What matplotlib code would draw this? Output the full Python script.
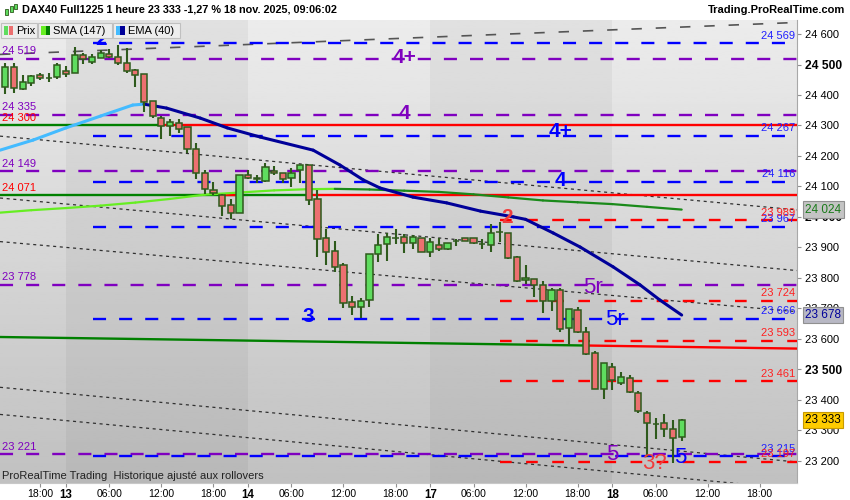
import numpy as np
import matplotlib.pyplot as plt
from matplotlib.patches import Rectangle

plt.rcParams['font.family'] = ['Liberation Sans', 'DejaVu Sans']
plt.rcParams['lines.scale_dashes'] = False

# une bougie par heure de cotation, indice 0 = 13 nov. 01:00 (21 bougies par jour)
bars = np.arange(-7, 72)
opens = [24425, 24493, 24421, 24440, 24466, 24455, 24458, 24479, 24471, 24531,
         24509, 24520, 24534, 24524, 24506, 24482, 24469, 24381, 24323, 24298,
         24309, 24294, 24222, 24145, 24088, 24072, 24039, 24012, 24137, 24127,
         24119, 24151, 24143, 24127, 24154, 24170, 24058, 23930, 23888, 23842,
         23722, 23703, 23727, 23877, 23910, 23930, 23933, 23913, 23930, 23886,
         23907, 23894, 23921, 23930, 23930, 23910, 23908, 23950, 23946, 23867,
         23792, 23797, 23777, 23724, 23760, 23634, 23694, 23623, 23552, 23434,
         23509, 23456, 23470, 23423, 23358, 23319, 23325, 23303, 23279]
highs = [24504, 24506, 24466, 24466, 24471, 24471, 24506, 24495, 24556, 24539,
         24534, 24547, 24550, 24564, 24553, 24484, 24469, 24381, 24331, 24320,
         24320, 24294, 24241, 24154, 24115, 24075, 24059, 24137, 24154, 24137,
         24176, 24167, 24143, 24159, 24169, 24170, 24088, 23959, 23922, 23850,
         23740, 23733, 23877, 23944, 23948, 23959, 23944, 23941, 23930, 23930,
         23930, 23915, 23926, 23930, 23930, 23926, 23977, 23984, 23946, 23872,
         23842, 23797, 23790, 23766, 23766, 23697, 23703, 23638, 23561, 23520,
         23520, 23492, 23481, 23430, 23364, 23339, 23352, 23334, 23336]
lows = [24403, 24407, 24416, 24430, 24449, 24443, 24451, 24460, 24471, 24502,
        24502, 24520, 24520, 24498, 24471, 24427, 24345, 24323, 24254, 24265,
        24276, 24211, 24123, 24075, 24072, 24004, 23993, 24012, 24123, 24110,
        24115, 24137, 24110, 24097, 24110, 24039, 23867, 23842, 23820, 23700,
        23678, 23667, 23705, 23853, 23856, 23911, 23880, 23894, 23885, 23869,
        23889, 23891, 23905, 23922, 23911, 23896, 23886, 23919, 23863, 23787,
        23780, 23738, 23684, 23692, 23623, 23580, 23620, 23547, 23434, 23402,
        23432, 23448, 23423, 23358, 23212, 23270, 23279, 23192, 23265]
closes = [24493, 24422, 24441, 24462, 24455, 24457, 24497, 24468, 24531, 24517,
          24524, 24537, 24526, 24506, 24480, 24466, 24378, 24331, 24298, 24311,
          24287, 24222, 24145, 24090, 24077, 24036, 24012, 24137, 24127, 24125,
          24163, 24143, 24123, 24143, 24169, 24055, 23926, 23886, 23837, 23718,
          23703, 23725, 23877, 23907, 23935, 23931, 23913, 23933, 23885, 23917,
          23894, 23913, 23922, 23922, 23913, 23911, 23946, 23951, 23866, 23791,
          23798, 23777, 23724, 23760, 23631, 23697, 23623, 23550, 23434, 23520,
          23465, 23474, 23426, 23364, 23323, 23319, 23304, 23276, 23333]

# moyennes mobiles
sma_k = [-7.6, -4, 0, 4, 8, 12, 16, 20, 24, 28, 31, 35, 39, 43, 47, 51, 55, 59, 63, 67, 71]
sma_v = [24014, 24022, 24029, 24037, 24047, 24059, 24073, 24080, 24087, 24091, 24092,
         24090, 24086, 24082, 24074, 24064, 24054, 24048, 24042, 24033, 24024]
ema_k = [-7.6, -3.8, 0, 4, 7.7, 9, 11.6, 15.5, 18.6, 22.4, 28.5, 31.6, 34.3, 36.2,
         40, 43.9, 47.8, 51.6, 53, 56.2, 59.3, 63.1, 66.2, 68.5, 71]
ema_v = [24219, 24252, 24292, 24331, 24367, 24370, 24357, 24324, 24292, 24262, 24219,
         24170, 24121, 24095, 24065, 24046, 24019, 24000, 23992, 23947, 23901, 23836,
         23777, 23727, 23678]

# axe du temps
tick_pos = [-3, 0, 5, 11, 17, 21, 26, 32, 38, 42, 47, 53, 59, 63, 68, 74, 80]
tick_txt = ['18:00', '13', '06:00', '12:00', '18:00', '14', '06:00', '12:00', '18:00',
            '17', '06:00', '12:00', '18:00', '18', '06:00', '12:00', '18:00']
day_labels = ['13', '14', '17', '18']
dark_days = [0, 42]
price_ticks = list(range(23200, 24601, 100))

# niveaux horizontaux
purple_levels = [24519, 24335, 24149, 23778, 23221]
blue_levels = [24569, 24267, 24116, 23967, 23666, 23215]
red_levels = [23989, 23724, 23593, 23461, 23197]
solid_levels = [24300, 24071]
solid_switch = [10.8, 28.1]
slope_line = [23606, 23568]
slope_switch = 59.9
# droites de tendance (prix au bord gauche, prix au bord droit)
trend_left = [24533, 24265, 24062, 23919, 23441, 23352]
trend_right = [24638, 24023, 23824, 23689, 23196, 23107]

# etiquettes des vagues
waves = [('4+', 39, 24523, '#7f00bf', 'bold'), ('4', 39, 24339, '#7f00bf', 'bold'),
         ('4+', 57, 24280, '#0000ff', 'bold'), ('4', 57, 24121, '#0000ff', 'bold'),
         ('2', 4.0, 24582, '#0000ff', 'bold'), ('2', 50.9, 23998, '#f03c3c', 'bold'),
         ('3', 27.9, 23674, '#0000ff', 'bold'), ('5r', 60.8, 23769, '#7f00bf', 'normal'),
         ('5r', 63.3, 23664, '#0000ff', 'normal'), ('5', 63.0, 23221, '#7f00bf', 'normal'),
         ('3?', 67.9, 23192, '#f03c3c', 'normal'), ('5', 70.8, 23211, '#0000ff', 'normal')]

GREEN_UP, RED_DN, EDGE = '#5fdc5f', '#ec7070', '#2e5a1c'
PURPLE, BLUE, RED, DGREEN = '#7f00bf', '#0000ff', '#ff0000', '#008000'

fig = plt.figure(figsize=(8.5, 5), dpi=100, facecolor='white')
ax = fig.add_axes([0, 17 / 500, 797 / 850, 463 / 500])
x_lo, x_hi = -7.61, 84.3
y_lo, y_hi = 23127, 24646
ax.set_xlim(x_lo, x_hi)
ax.set_ylim(y_lo, y_hi)

# fond en degrade + jours alternes
grad = np.linspace(0.925, 0.755, 200).reshape(-1, 1)
ax.imshow(grad, cmap='gray', vmin=0, vmax=1, aspect='auto',
          extent=[x_lo, x_hi, y_lo, y_hi], origin='upper', zorder=0)
for d0 in dark_days:
    ax.axvspan(d0, d0 + 21, color='black', alpha=0.045, lw=0, zorder=0.5)

# tendances
for i, (a, b) in enumerate(zip(trend_left, trend_right)):
    if i == 0:
        ax.plot([x_lo, x_hi], [a, b], color='#555555', lw=1.2, dashes=(7.5, 10), zorder=2)
    else:
        ax.plot([x_lo, x_hi], [a, b], color='#303030', lw=0.9, dashes=(2.2, 2.6), zorder=2)

# niveaux
for p in purple_levels:
    ax.hlines(p, x_lo, x_hi, colors=PURPLE, lw=1.7, linestyles=[(0, (9.4, 9.4))], zorder=3)
for p in blue_levels:
    ax.hlines(p, 3.1, x_hi, colors=BLUE, lw=1.7, linestyles=[(0, (9.4, 9.4))], zorder=3)
for p in red_levels:
    ax.hlines(p, 50, x_hi, colors=RED, lw=1.7, linestyles=[(0, (8.4, 10.4))], zorder=3)
for p, sw in zip(solid_levels, solid_switch):
    ax.hlines(p, x_lo, sw, colors=DGREEN, lw=1.7, zorder=3)
    ax.hlines(p, sw, x_hi, colors=RED, lw=1.7, zorder=3)
ax.hlines(solid_levels[1], 18, 20, colors=RED, lw=1.7, zorder=3)
mid = np.interp(slope_switch, [x_lo, x_hi], slope_line)
ax.plot([x_lo, slope_switch], [slope_line[0], mid], color=DGREEN, lw=1.7, zorder=3)
ax.plot([slope_switch, x_hi], [mid, slope_line[1]], color=RED, lw=1.7, zorder=3)


def two_tone(ks, vs, c_up, c_dn, lw):
    for i in range(len(ks) - 1):
        c = c_up if vs[i + 1] >= vs[i] else c_dn
        ax.plot(ks[i:i + 2], vs[i:i + 2], color=c, lw=lw, solid_capstyle='round', zorder=4)


two_tone(sma_k, sma_v, '#66ee22', '#1a8a1a', 1.6)
two_tone(ema_k, ema_v, '#44bbff', '#000099', 2.2)

# bougies
o = np.array(opens)
c = np.array(closes)
ax.vlines(bars, lows, highs, color=EDGE, lw=1.5, zorder=6)
ax.bar(bars, np.maximum(np.abs(c - o), 0.5), bottom=np.minimum(o, c), width=0.72,
       color=np.where(c >= o, GREEN_UP, RED_DN), edgecolor=EDGE, lw=1.1, zorder=7)

# etiquettes de niveaux
fmt = lambda v: f'{v:,}'.replace(',', ' ')
for p in purple_levels:
    ax.annotate(fmt(p), (0, p), xycoords=('axes fraction', 'data'), xytext=(1.5, 5.5),
                textcoords='offset points', color=PURPLE, fontsize=8, va='center', zorder=9)
for p in solid_levels:
    ax.annotate(fmt(p), (0, p), xycoords=('axes fraction', 'data'), xytext=(1.5, 5.5),
                textcoords='offset points', color=RED, fontsize=8, va='center', zorder=9)
for p in blue_levels:
    ax.annotate(fmt(p), (1, p), xycoords=('axes fraction', 'data'), xytext=(-1.5, 5.5),
                textcoords='offset points', color='#2020ff', fontsize=8, ha='right',
                va='center', zorder=9)
for p in red_levels:
    ax.annotate(fmt(p), (1, p), xycoords=('axes fraction', 'data'), xytext=(-1.5, 5.5),
                textcoords='offset points', color='#ff2020', fontsize=8, ha='right',
                va='center', zorder=9)

for txt, k, p, col, w in waves:
    ax.text(k, p, txt, color=col, fontsize=15 if w == 'bold' else 16, fontweight=w,
            ha='center', va='center', zorder=9)

# axes
ax.set_xticks(tick_pos)
ax.set_xticklabels(tick_txt)
ax.tick_params(axis='x', length=3, color='#909090', labelsize=7.5, pad=1)
for lbl, t in zip(ax.get_xticklabels(), tick_txt):
    if t in day_labels:
        lbl.set_fontweight('bold')
        lbl.set_fontsize(8.3)
ax.yaxis.tick_right()
ax.set_yticks(price_ticks)
ax.set_yticklabels([fmt(v) for v in price_ticks])
ax.tick_params(axis='y', length=3, color='#909090', labelsize=8, pad=2.5)
for lbl, v in zip(ax.get_yticklabels(), price_ticks):
    if v % 500 == 0:
        lbl.set_fontweight('bold')
        lbl.set_fontsize(8.7)
for s in ['top', 'left']:
    ax.spines[s].set_visible(False)
ax.spines['right'].set_color('#a8a8a8')
ax.spines['bottom'].set_color('#c8c8c8')

# valeurs courantes a droite
last_boxes = [(sma_v[-1], '#1a7a1a', '#c4c4c4', '#909090'),
              (ema_v[-1], '#000099', '#b8b8c4', '#909090'),
              (closes[-1], 'black', '#ffcc00', '#c89a00')]
for v, tc, fc, ec in last_boxes:
    ax.annotate(fmt(v), (1, v), xycoords=('axes fraction', 'data'), xytext=(6, 0),
                textcoords='offset points', color=tc, fontsize=8.5, va='center',
                annotation_clip=False, zorder=10,
                bbox=dict(boxstyle='square,pad=0.18', fc=fc, ec=ec, lw=0.8))


# entete et legende (coordonnees pixels de la figure)
def fx(x):
    return x / 850


def fy(y):
    return 1 - y / 500


fig.text(fx(22), fy(10), 'DAX40 Full1225 1 heure 23 333 -1,27 % 18 nov. 2025, 09:06:02',
         fontsize=7.8, fontweight='bold', va='center')
fig.text(fx(845), fy(10), 'Trading.ProRealTime.com', fontsize=8, fontweight='bold',
         va='center', ha='right')
for x0, y0, y1, col in [(5, 9, 15, GREEN_UP), (9.5, 6, 12, GREEN_UP), (14, 4, 9, GREEN_UP)]:
    fig.add_artist(Rectangle((fx(x0), fy(y1)), 3 / 850, (y1 - y0) / 500, fc=col, ec=EDGE,
                             lw=0.6, transform=fig.transFigure, zorder=5))

legend = [('Prix', 1, 37, GREEN_UP, RED_DN), ('SMA (147)', 38, 112, '#66ee22', DGREEN),
          ('EMA (40)', 113, 180, '#44bbff', '#000099')]
for name, x0, x1, c1, c2 in legend:
    fig.add_artist(Rectangle((fx(x0), fy(38.3)), (x1 - x0) / 850, 15.6 / 500, fc='#ededed',
                             ec='#c0c0c0', lw=0.8, transform=fig.transFigure, zorder=5))
    fig.add_artist(Rectangle((fx(x0 + 3), fy(35)), 4.5 / 850, 9.5 / 500, fc=c1, lw=0,
                             transform=fig.transFigure, zorder=6))
    fig.add_artist(Rectangle((fx(x0 + 7.5), fy(35)), 4.5 / 850, 9.5 / 500, fc=c2, lw=0,
                             transform=fig.transFigure, zorder=6))
    fig.text(fx(x0 + 15), fy(30.5), name, fontsize=8, va='center', zorder=7)

fig.text(fx(2), fy(476), 'ProRealTime Trading  Historique ajusté aux rollovers',
         fontsize=8, color='#222222', va='center', zorder=7)

fig.savefig('out.png', dpi=100)
